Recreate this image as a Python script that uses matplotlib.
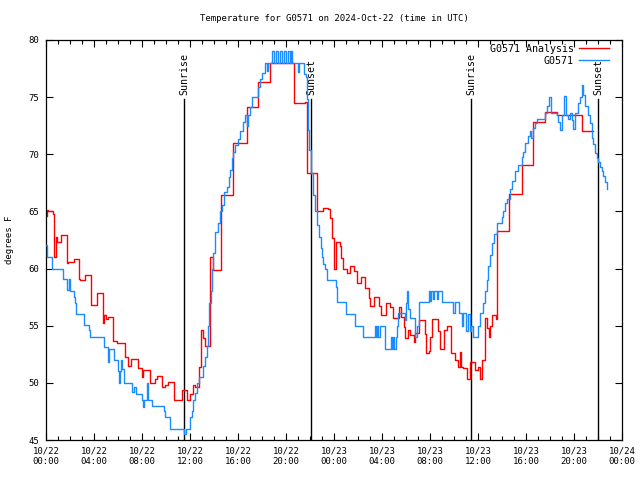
import datetime as dt
import matplotlib
matplotlib.use("Agg")
import matplotlib.pyplot as plt
import matplotlib.dates as mdates

start = dt.datetime(2024, 10, 22)

# hours after 10/22 00:00 UTC, degrees F
analysis_hours = [0.00, 0.08, 0.17, 0.58, 0.67, 0.83, 0.92, 1.25, 1.75, 1.83, 2.33, 2.75, 2.83, 3.25,
                  3.75, 4.25, 4.75, 4.83, 5.00, 5.17, 5.58, 5.92, 6.58, 6.83, 7.08, 7.67, 8.00, 8.08,
                  8.67, 9.08, 9.25, 9.67, 9.92, 10.17, 10.67, 11.33, 11.75, 12.00, 12.25, 12.42, 12.75,
                  12.92, 13.08, 13.25, 13.67, 13.92, 14.58, 15.58, 16.75, 17.67, 18.67, 20.67, 21.58,
                  21.75, 22.58, 23.08, 23.50, 23.67, 23.83, 24.00, 24.17, 24.50, 24.58, 24.75, 25.08,
                  25.33, 25.67, 25.92, 26.25, 26.58, 26.92, 27.00, 27.33, 27.75, 27.92, 28.33, 28.67,
                  28.92, 29.42, 29.58, 29.83, 29.92, 30.17, 30.33, 30.67, 30.75, 31.08, 31.58, 31.67,
                  31.92, 32.00, 32.17, 32.67, 32.83, 33.17, 33.42, 33.75, 34.08, 34.33, 34.50, 34.58,
                  34.75, 35.08, 35.33, 35.75, 36.00, 36.17, 36.33, 36.58, 36.75, 36.92, 37.00, 37.17,
                  37.50, 37.58, 38.58, 39.67, 40.58, 41.58, 42.58, 44.67, 45.58]
analysis_temps = [64.6, 65.1, 65.0, 64.8, 61.0, 62.8, 62.3, 62.9, 60.5, 60.6, 60.8, 59.1, 59.0, 59.4,
                  56.8, 57.9, 55.2, 55.9, 55.6, 55.8, 53.7, 53.5, 52.3, 51.5, 52.1, 51.3, 50.5, 51.1,
                  50.0, 50.3, 50.6, 49.6, 49.8, 50.1, 48.5, 49.4, 48.5, 49.0, 49.8, 49.6, 51.4,
                  54.6, 53.9, 53.2, 61.0, 59.9, 66.4, 71.0, 74.1, 76.3, 78.0, 74.5, 74.6,
                  68.4, 65.0, 65.3, 65.2, 64.4, 62.7, 60.0, 62.3, 62.0, 60.9, 60.0, 59.6,
                  60.2, 59.8, 58.7, 59.3, 58.3, 57.4, 56.7, 57.5, 56.7, 55.9, 57.0, 56.6,
                  55.7, 56.6, 55.8, 54.9, 53.9, 54.6, 54.2, 53.6, 54.4, 55.5, 54.3, 52.6,
                  52.8, 54.0, 55.6, 54.5, 53.0, 54.6, 55.0, 52.6, 52.0, 51.4, 52.7, 51.4,
                  51.3, 50.3, 51.8, 51.1, 51.4, 50.3, 52.0, 55.7, 54.8, 54.0, 55.0, 55.9,
                  55.6, 63.3, 66.5, 69.1, 72.8, 73.7, 73.4, 72.0, 72.0]

station_hours = [0.00, 0.08, 0.50, 1.42, 1.75, 1.92, 2.00, 2.33, 2.42, 2.50, 3.17, 3.58, 3.67, 4.83,
                 5.17, 5.25, 5.67, 6.00, 6.08, 6.17, 6.25, 6.33, 6.50, 7.17, 7.33, 7.50, 8.00, 8.08,
                 8.17, 8.42, 8.50, 8.83, 9.83, 9.92, 10.33, 11.50, 11.67, 12.00, 12.17, 12.25, 12.42,
                 12.58, 12.75, 13.08, 13.25, 13.42, 13.50, 13.58, 13.75, 13.83, 13.92, 14.08, 14.33,
                 14.50, 14.67, 14.83, 15.08, 15.25, 15.33, 15.50, 15.58, 15.75, 16.00, 16.17, 16.42,
                 16.58, 16.75, 16.83, 17.00, 17.17, 17.67, 17.83, 18.00, 18.25, 18.42, 18.50, 18.83,
                 19.00, 19.17, 19.33, 19.50, 19.67, 19.83, 20.00, 20.17, 20.33, 20.42, 20.50, 21.00,
                 21.08, 21.50, 21.67, 21.75, 21.83, 21.92, 22.08, 22.25, 22.42, 22.58, 22.75, 22.92,
                 23.00, 23.08, 23.25, 23.42, 24.17, 24.25, 25.00, 25.75, 26.42, 27.42, 27.50, 27.58,
                 27.67, 27.83, 28.25, 28.75, 28.83, 28.92, 29.00, 29.17, 29.25, 29.33, 29.92, 30.00,
                 30.08, 30.17, 30.33, 30.75, 30.92, 31.08, 31.92, 32.00, 32.08, 32.25, 32.33, 32.58,
                 32.67, 33.00, 33.92, 34.08, 34.42, 34.67, 34.75, 35.00, 35.17, 35.33, 35.42, 35.58,
                 36.00, 36.17, 36.42, 36.58, 36.75, 36.83, 37.00, 37.17, 37.33, 37.58, 38.00, 38.08,
                 38.25, 38.42, 38.67, 38.83, 39.08, 39.33, 39.67, 39.75, 39.92, 40.17, 40.33, 40.42,
                 40.58, 40.75, 40.92, 41.58, 41.75, 41.92, 42.08, 42.58, 42.67, 42.83, 43.00, 43.17,
                 43.33, 43.50, 43.67, 43.83, 43.92, 44.08, 44.33, 44.50, 44.67, 44.75, 44.92, 45.17,
                 45.33, 45.50, 45.58, 45.75, 45.92, 46.00, 46.17, 46.33, 46.42, 46.58, 46.75]
station_temps = [62.1, 61.0, 60.0, 59.1, 58.1, 59.1, 58.0, 57.5, 57.0, 56.0, 55.1, 54.6, 54.0, 53.1,
                 51.8, 53.0, 52.0, 51.0, 50.0, 51.0, 52.0, 51.2, 50.0, 49.2, 49.6, 49.0, 48.5, 47.9,
                 48.5, 50.0, 48.5, 48.0, 47.5, 47.0, 46.0, 45.5, 46.0, 47.0, 47.5, 48.5, 49.1,
                 50.0, 50.5, 51.5, 52.3, 53.2, 55.0, 57.0, 58.0, 60.0, 61.4, 63.2, 64.0,
                 65.0, 65.6, 66.7, 67.1, 68.0, 68.6, 69.7, 70.2, 70.8, 71.3, 72.0, 72.8,
                 73.4, 72.5, 73.4, 74.1, 75.0, 75.9, 76.6, 77.1, 78.0, 77.3, 78.0, 79.0,
                 78.0, 79.0, 78.0, 79.0, 78.0, 79.0, 78.0, 79.0, 78.0, 79.0, 78.0, 77.2,
                 78.0, 77.0, 76.8, 74.8, 72.1, 70.4, 68.4, 66.4, 65.0, 63.8, 62.8, 61.8,
                 61.0, 60.4, 60.0, 59.0, 58.4, 57.1, 56.0, 55.0, 54.0, 55.0, 54.0, 55.0,
                 54.0, 55.0, 53.0, 54.0, 53.0, 54.0, 53.0, 54.0, 55.0, 56.1, 55.5, 57.0,
                 58.0, 56.5, 55.7, 54.0, 55.0, 57.1, 58.0, 57.2, 58.0, 57.3, 58.0, 57.3,
                 58.0, 57.1, 56.1, 57.1, 56.1, 55.0, 56.1, 54.5, 56.0, 54.5, 55.0, 54.0,
                 55.0, 56.1, 57.0, 58.0, 59.0, 60.2, 61.2, 62.2, 63.0, 64.0, 64.5, 65.0,
                 65.7, 66.1, 67.0, 67.7, 68.5, 69.1, 69.8, 70.2, 71.0, 71.6, 72.0, 71.4,
                 72.3, 72.7, 73.1, 73.6, 74.2, 75.0, 73.6, 73.4, 72.8, 72.1, 73.4, 75.1,
                 73.4, 73.1, 73.6, 73.0, 72.2, 73.6, 74.5, 75.0, 76.1, 75.2, 74.2, 73.4,
                 72.7, 71.4, 70.9, 70.1, 69.7, 69.3, 68.9, 68.5, 68.1, 67.6, 67.0]

sun_hours = [11.5, 22.08, 35.42, 46.0]
sun_labels = ["Sunrise", "Sunset", "Sunrise", "Sunset"]


def to_times(hours):
    return [start + dt.timedelta(hours=h) for h in hours]


plt.rcParams["font.family"] = "DejaVu Sans Mono"
plt.rcParams["font.size"] = 6.5

fig = plt.figure(figsize=(6.4, 4.8), dpi=100)
ax = fig.add_axes([46 / 640, 40 / 480, 576 / 640, 400 / 480])

for h, lab in zip(sun_hours, sun_labels):
    t = start + dt.timedelta(hours=h)
    ax.plot([t, t], [45, 74.8], color="black", lw=1.0, zorder=1)
    ax.text(t, 75.2, lab, rotation=90, ha="center", va="bottom", fontsize=7.2)

ax.plot(to_times(analysis_hours), analysis_temps, drawstyle="steps-post",
        color="#ff0000", lw=1.0, label="G0571 Analysis", zorder=2)
ax.plot(to_times(station_hours), station_temps, drawstyle="steps-post",
        color="#1a8cff", lw=1.0, label="G0571", zorder=3)

ax.set_xlim(start, start + dt.timedelta(hours=48))
ax.set_ylim(45, 80)
ax.set_yticks(range(45, 81, 5))
ax.xaxis.set_major_locator(mdates.HourLocator(byhour=range(0, 24, 4)))
ax.xaxis.set_minor_locator(mdates.HourLocator())
ax.xaxis.set_major_formatter(mdates.DateFormatter("%m/%d\n%H:%M"))
ax.tick_params(which="both", direction="in", top=True, right=True, width=0.8)
ax.tick_params(which="major", length=5, pad=5)
ax.tick_params(which="minor", length=3)
for s in ax.spines.values():
    s.set_linewidth(0.9)

ax.set_ylabel("degrees F", labelpad=10)
ax.set_title("Temperature for G0571 on 2024-Oct-22 (time in UTC)", fontsize=6.5, pad=14)
ax.legend(loc="upper right", bbox_to_anchor=(1 - 9 / 576, 1.0), frameon=False,
          markerfirst=False, handlelength=3.0, handletextpad=0.5, borderaxespad=0.0,
          labelspacing=0.2, fontsize=7.2)

fig.savefig("out.png", dpi=100)
